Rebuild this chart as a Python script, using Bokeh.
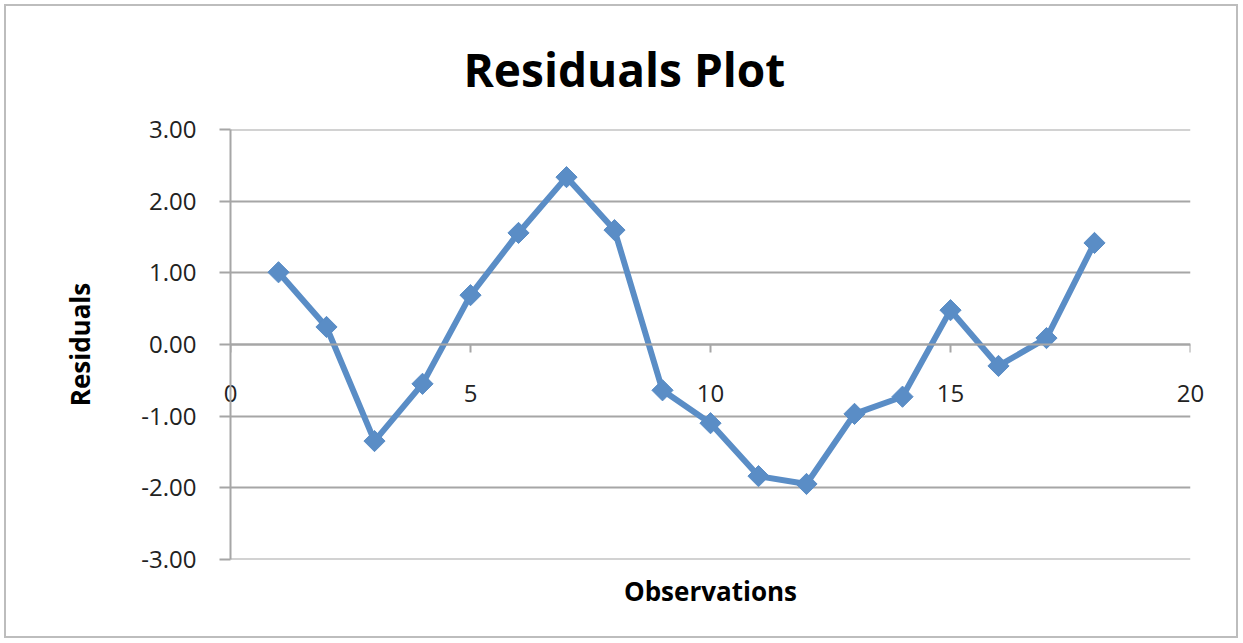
from bokeh.plotting import figure
from bokeh.models import (Range1d, NumeralTickFormatter, FixedTicker, Title,
                          ColumnDataSource, LinearAxis)
from bokeh.embed import file_html
from bokeh.resources import INLINE
import math

observations = [1, 2, 3, 4, 5, 6, 7, 8, 9, 10, 11, 12, 13, 14, 15, 16, 17, 18]
residuals = [1.01, 0.245, -1.35, -0.55, 0.69, 1.56, 2.34, 1.60, -0.64, -1.10,
             -1.84, -1.95, -0.97, -0.73, 0.48, -0.30, 0.09, 1.42]
x_ticks = [0, 5, 10, 15, 20]
y_ticks = [-3, -2, -1, 0, 1, 2, 3]

FONT = "Open Sans"
BLUE = "#5A8DC6"
GRAY = "#A6A6A6"

src = ColumnDataSource(data=dict(x=observations, y=residuals))

p = figure(width=1234, height=634, output_backend="svg", toolbar_location=None,
           x_range=Range1d(0, 20), y_range=Range1d(-3.006, 3.006),
           min_border_left=224, min_border_right=50,
           min_border_top=123, min_border_bottom=81)
p.outline_line_color = None
p.styles = {"border": "2px solid #BDBDBD", "margin-left": "4px", "margin-top": "4px"}

# title
t = Title(text="Residuals Plot", align="left", offset=233, standoff=58,
          vertical_align="middle",
          text_font=FONT, text_font_size="46px", text_font_style="bold",
          text_color="black")
p.add_layout(t, "above")
p.title.visible = False

# grid
p.xgrid.visible = False
p.ygrid.ticker = FixedTicker(ticks=y_ticks)
p.ygrid.grid_line_color = GRAY
p.ygrid.grid_line_width = 2

# y axis
p.yaxis.ticker = FixedTicker(ticks=y_ticks)
p.yaxis.formatter = NumeralTickFormatter(format="0.00")
p.yaxis.axis_line_color = GRAY
p.yaxis.axis_line_width = 2
p.yaxis.major_tick_line_color = GRAY
p.yaxis.major_tick_line_width = 2
p.yaxis.major_tick_out = 11
p.yaxis.major_tick_in = 0
p.yaxis.minor_tick_line_color = None
p.yaxis.major_label_standoff = 23
p.yaxis.major_label_text_font = FONT
p.yaxis.major_label_text_font_size = "24px"
p.yaxis.major_label_text_color = "#222222"
p.yaxis.axis_label = "Residuals"
p.yaxis.axis_label_text_font = FONT
p.yaxis.axis_label_text_font_size = "26px"
p.yaxis.axis_label_text_font_style = "bold"
p.yaxis.axis_label_text_color = "black"
p.yaxis.axis_label_standoff = 40

# x axis line and ticks at y = 0 (labels drawn by a second axis below)
p.xaxis.fixed_location = 0
p.xaxis.ticker = FixedTicker(ticks=x_ticks)
p.xaxis.axis_line_color = GRAY
p.xaxis.axis_line_width = 2
p.xaxis.major_tick_line_color = GRAY
p.xaxis.major_tick_line_width = 2
p.xaxis.major_tick_out = 8
p.xaxis.major_tick_in = 0
p.xaxis.minor_tick_line_color = None
p.xaxis.major_label_text_alpha = 0
p.xaxis.major_label_text_font_size = "1px"

label_axis = LinearAxis(ticker=FixedTicker(ticks=x_ticks),
                        axis_line_color=None, major_tick_line_color=None,
                        minor_tick_line_color=None, major_tick_out=0, major_tick_in=0,
                        major_label_standoff=-175,
                        major_label_text_font=FONT, major_label_text_font_size="24px",
                        major_label_text_color="#222222",
                        axis_label="Observations", axis_label_standoff=168,
                        axis_label_text_font=FONT, axis_label_text_font_size="26px",
                        axis_label_text_font_style="bold", axis_label_text_color="black")
p.add_layout(label_axis, "below")

p.line("x", "y", source=src, line_color=BLUE, line_width=6, line_join="round")
p.scatter("x", "y", source=src, marker="square", size=15, angle=math.pi / 4,
          fill_color=BLUE, line_color=BLUE)

open("out.html", "w").write(file_html(p, INLINE))
